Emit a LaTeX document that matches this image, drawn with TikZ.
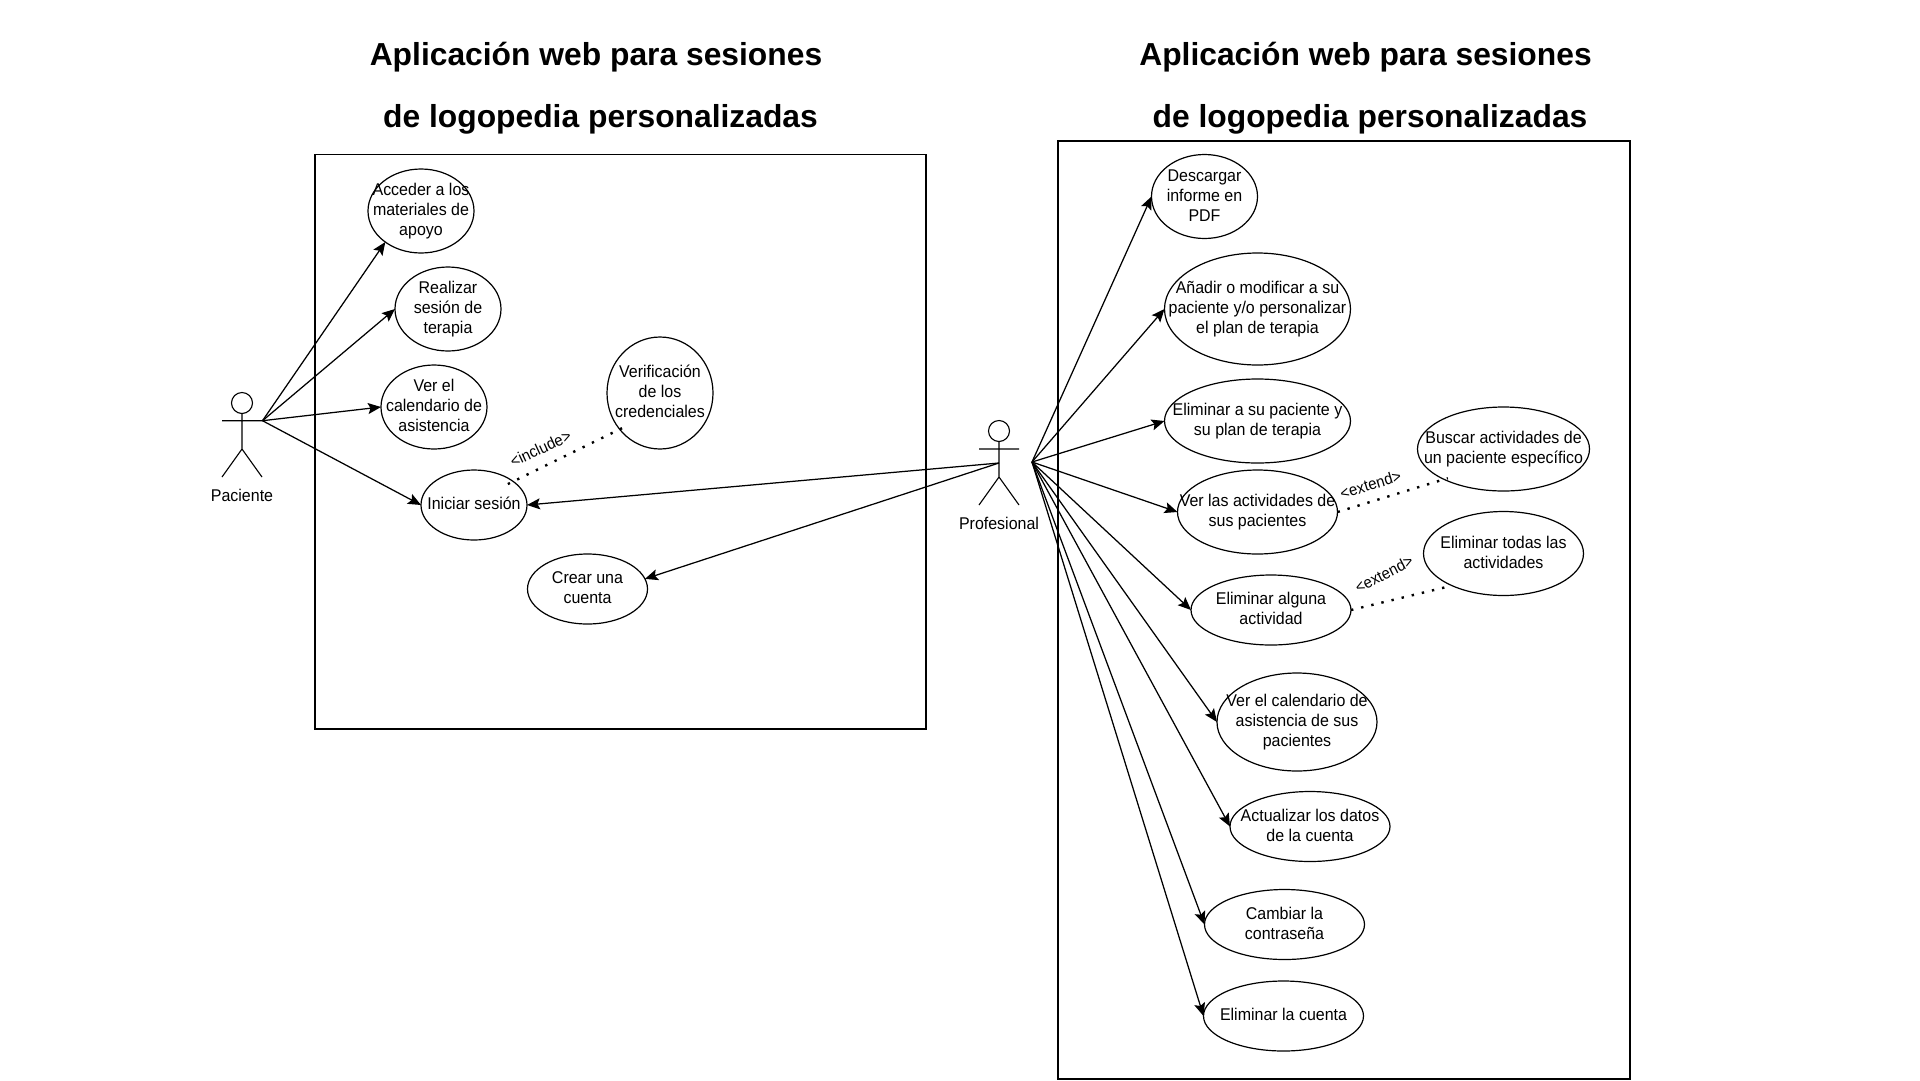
\documentclass[tikz,border=0pt]{standalone}
\usepackage{fontspec}
\setmainfont{Liberation Sans}
\newfontfamily\ufont[FakeStretch=0.94]{Liberation Sans}
\usetikzlibrary{arrows.meta,shapes.geometric}
\newcommand{\ut}[1]{\raisebox{-10pt}{\smash{\makebox[0pt]{\ufont\fontsize{17}{20.2}\selectfont\begin{tabular}{@{}c@{}}#1\end{tabular}}}}}
\tikzset{
  uc/.style={draw,ellipse,inner sep=0pt,outer sep=0pt,line width=1.2pt},
  sysbox/.style={draw,line width=1.1pt},
  title/.style={font=\fontsize{31.8}{38}\bfseries\selectfont,inner sep=0pt},
  actorlabel/.style={font=\ufont\fontsize{17}{20}\selectfont,inner sep=0pt},
  stereo/.style={font=\ufont\fontsize{16}{18}\selectfont,inner sep=0pt},
  stick/.style={line width=1.1pt},
  assoc/.style={line width=1.25pt,-{Stealth[inset=2.5pt,length=13pt,width=11pt]}},
  dep/.style={line width=2.4pt,dash pattern=on 2.4pt off 8pt}
}
\begin{document}
\begin{tikzpicture}[x=1pt,y=-1pt]
\useasboundingbox (0,0) rectangle (1920,1080);
% titles
\node[title] (t1) at (596,57) {Aplicación web para sesiones};
\node[title] (t2) at (600.5,119) {de logopedia personalizadas};
\node[title] (t3) at (1365.5,57) {Aplicación web para sesiones};
\node[title] (t4) at (1370,119) {de logopedia personalizadas};
% system boxes
\draw[sysbox] (315,154.5) rectangle (926,729);
\draw[sysbox] (1058,141) rectangle (1630,1079);
% patient use cases
\node[uc,minimum width=106pt,minimum height=84pt] (acc) at (421,211) {\ut{Acceder a los\\materiales de\\apoyo}};
\node[uc,minimum width=106pt,minimum height=84pt] (rea) at (448,309) {\ut{Realizar\\sesión de\\terapia}};
\node[uc,minimum width=106pt,minimum height=84pt] (cal) at (434,407) {\ut{Ver el\\calendario de\\asistencia}};
\node[uc,minimum width=106pt,minimum height=70pt] (ini) at (474,505) {\ut{Iniciar sesión}};
\node[uc,minimum width=106pt,minimum height=112pt] (ver) at (660,393) {\ut{Verificación\\de los\\credenciales}};
\node[uc,minimum width=120pt,minimum height=70pt] (cre) at (587.5,589) {\ut{Crear una\\cuenta}};
% professional use cases
\node[uc,minimum width=106pt,minimum height=84pt] (des) at (1204.5,196.5) {\ut{Descargar\\informe en\\PDF}};
\node[uc,minimum width=186pt,minimum height=112pt] (ana) at (1257.5,309) {\ut{Añadir o modificar a su\\paciente y/o personalizar\\el plan de terapia}};
\node[uc,minimum width=186pt,minimum height=84pt] (elp) at (1257.5,421) {\ut{Eliminar a su paciente y\\su plan de terapia}};
\node[uc,minimum width=160pt,minimum height=84pt] (vac) at (1257.5,512) {\ut{Ver las actividades de\\sus pacientes}};
\node[uc,minimum width=160pt,minimum height=70pt] (ela) at (1271,610) {\ut{Eliminar alguna\\actividad}};
\node[uc,minimum width=160pt,minimum height=98pt] (vca) at (1297,722) {\ut{Ver el calendario de\\asistencia de sus\\pacientes}};
\node[uc,minimum width=160pt,minimum height=70pt] (act) at (1310,826.5) {\ut{Actualizar los datos\\de la cuenta}};
\node[uc,minimum width=160pt,minimum height=70pt] (cam) at (1284.5,924.5) {\ut{Cambiar la\\contraseña}};
\node[uc,minimum width=160pt,minimum height=70pt] (elc) at (1283.5,1016) {\ut{Eliminar la cuenta}};
\node[uc,minimum width=172pt,minimum height=84pt] (bus) at (1503.5,449) {\ut{Buscar actividades de\\un paciente específico}};
\node[uc,minimum width=160pt,minimum height=84pt] (elt) at (1503.5,553.5) {\ut{Eliminar todas las\\actividades}};
% actors
\node[draw,circle,stick,minimum size=21pt,inner sep=0pt] (pachead) at (242,403) {};
\coordinate (pacarmL) at (222,420.7);
\coordinate (pacarmR) at (262.5,420.7);
\coordinate (pachip) at (242,449);
\coordinate (paclegL) at (222,477);
\coordinate (paclegR) at (262,477);
\draw[stick] (pachead.south) -- (pachip) (pacarmL) -- (pacarmR) (paclegL) -- (pachip) -- (paclegR);
\node[actorlabel] (pac) at (242,495.5) {Paciente};
\node[draw,circle,stick,minimum size=21pt,inner sep=0pt] (prohead) at (999,431) {};
\coordinate (proarmL) at (979,449);
\coordinate (proarmR) at (1019,449);
\coordinate (prohip) at (999,477);
\coordinate (prolegL) at (979,505);
\coordinate (prolegR) at (1019,505);
\draw[stick] (prohead.south) -- (prohip) (proarmL) -- (proarmR) (prolegL) -- (prohip) -- (prolegR);
\node[actorlabel] (pro) at (999,523.5) {Profesional};
\coordinate (paco) at (262.5,420.7);
\coordinate (prol) at (999,463);
\coordinate (pror) at (1032,462);
% connectors
\draw[assoc] (paco) -- (acc.221);
\draw[assoc] (paco) -- (rea.west);
\draw[assoc] (paco) -- (cal.west);
\draw[assoc] (paco) -- (ini.west);
\draw[assoc] (prol) -- (ini.east);
\draw[assoc] (prol) -- (cre.10);
\foreach \n in {des,ana,elp,vac,ela,vca,act,cam,elc}
  \draw[assoc] (pror) -- (\n.west);
\draw[dep,shorten <=-6pt,shorten >=-4pt] (ini.31) -- (ver.222);
\draw[dep,shorten >=-4pt] (vac.east) -- (bus.207);
\draw[dep] (ela.east) -- (elt.212);
% stereotypes
\node[stereo,rotate=25] (inc) at (540.5,448.5) {<include>};
\node[stereo,rotate=17] (ex1) at (1370.5,484.5) {<extend>};
\node[stereo,rotate=27] (ex2) at (1384,574) {<extend>};
\end{tikzpicture}
\end{document}
